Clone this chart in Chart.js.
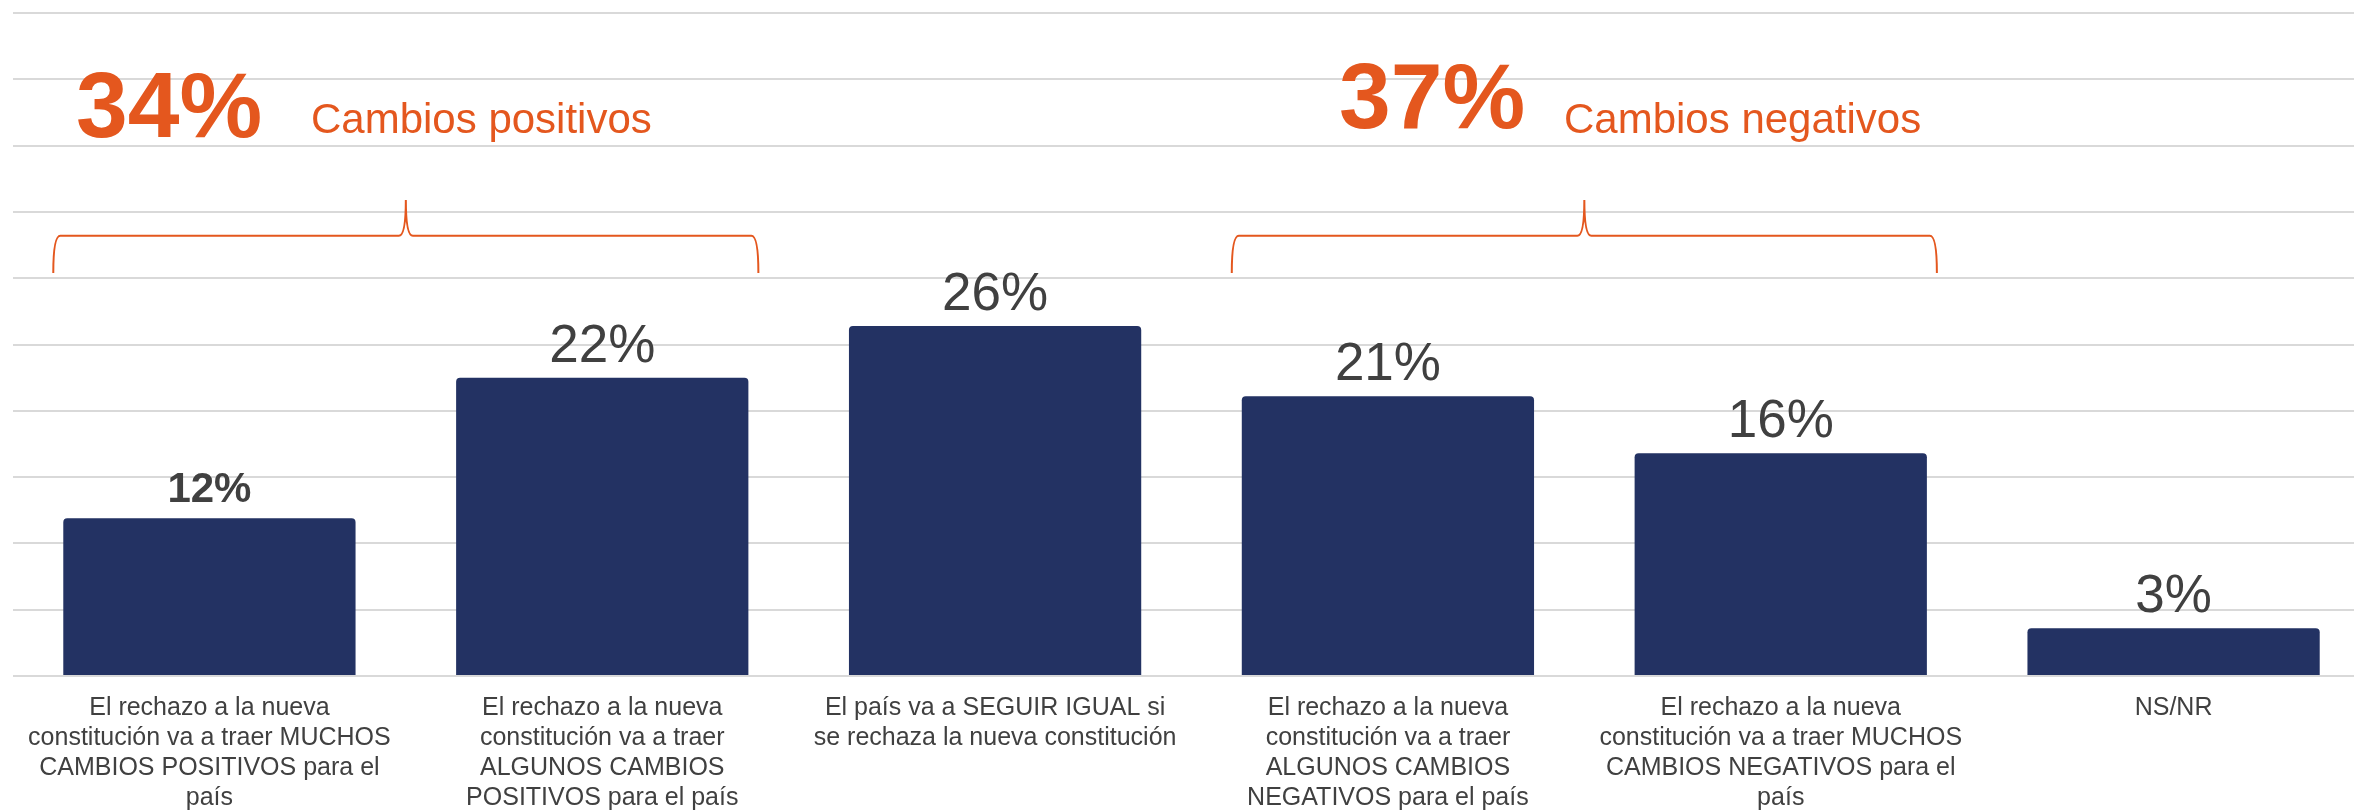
<!DOCTYPE html>
<html>
<head>
<meta charset="utf-8">
<script src="https://cdn.jsdelivr.net/npm/chart.js@4/dist/chart.umd.min.js"></script>
<style>
  html, body { margin: 0; padding: 0; background: #fff; overflow: hidden; }
  canvas { display: block; }
</style>
</head>
<body>
<canvas id="chart" width="2370" height="812"></canvas>
<script>
const categories = [
  ['El rechazo a la nueva', 'constitución va a traer MUCHOS', 'CAMBIOS POSITIVOS para el', 'país'],
  ['El rechazo a la nueva', 'constitución va a traer', 'ALGUNOS CAMBIOS', 'POSITIVOS para el país'],
  ['El país va a SEGUIR IGUAL si', 'se rechaza la nueva constitución'],
  ['El rechazo a la nueva', 'constitución va a traer', 'ALGUNOS CAMBIOS', 'NEGATIVOS para el país'],
  ['El rechazo a la nueva', 'constitución va a traer MUCHOS', 'CAMBIOS NEGATIVOS para el', 'país'],
  ['NS/NR']
];
const values = [11.9, 22.5, 26.4, 21.1, 16.8, 3.6];
const valueLabels = ['12%', '22%', '26%', '21%', '16%', '3%'];

// groups shown with a brace above the bars
const groupBars = [[0, 1], [3, 4]];
const groupTotals = ['34%', '37%'];
const groupNames = ['Cambios positivos', 'Cambios negativos'];

const ORANGE = '#E4571E';
const NAVY = '#233263';
const FONT = "'Liberation Sans', Arial, sans-serif";

const annotations = {
  id: 'annotations',
  afterDatasetsDraw(chart) {
    const ctx = chart.ctx;
    const y = chart.scales.y;
    const bars = chart.getDatasetMeta(0).data;

    // value labels
    ctx.save();
    ctx.textAlign = 'center';
    ctx.textBaseline = 'alphabetic';
    ctx.fillStyle = '#404040';
    bars.forEach((bar, i) => {
      ctx.font = i === 0 ? `bold 42px ${FONT}` : `53px ${FONT}`;
      ctx.fillText(valueLabels[i], bar.x, bar.y - 16);
    });
    ctx.restore();

    // braces + group totals
    ctx.save();
    ctx.strokeStyle = ORANGE;
    ctx.lineWidth = 2;
    const textPos = [{ num: 76, name: 311, numY: 137 }, { num: 1339, name: 1564, numY: 128 }];
    groupBars.forEach((g, k) => {
      const first = bars[g[0]], last = bars[g[1]];
      const L = first.x - first.width / 2 - 10;
      const R = last.x + last.width / 2 + 10;
      const tip = (first.x + last.x) / 2;
      const yEnd = y.getPixelForValue(30.4);
      const yH = y.getPixelForValue(33.2);
      const yTip = y.getPixelForValue(35.9);
      ctx.beginPath();
      ctx.moveTo(L, yEnd);
      ctx.quadraticCurveTo(L, yH, L + 7, yH);
      ctx.lineTo(tip - 7, yH);
      ctx.quadraticCurveTo(tip, yH, tip, yTip);
      ctx.quadraticCurveTo(tip, yH, tip + 7, yH);
      ctx.lineTo(R - 7, yH);
      ctx.quadraticCurveTo(R, yH, R, yEnd);
      ctx.stroke();

      ctx.fillStyle = ORANGE;
      ctx.textAlign = 'left';
      ctx.textBaseline = 'alphabetic';
      ctx.font = `bold 93px ${FONT}`;
      ctx.fillText(groupTotals[k], textPos[k].num, textPos[k].numY);
      ctx.font = `42px ${FONT}`;
      ctx.fillText(groupNames[k], textPos[k].name, 133);
    });
    ctx.restore();
  }
};

new Chart(document.getElementById('chart'), {
  type: 'bar',
  data: {
    labels: categories,
    datasets: [{
      data: values,
      backgroundColor: NAVY,
      borderRadius: { topLeft: 4, topRight: 4 },
      borderSkipped: 'bottom',
      categoryPercentage: 1,
      barPercentage: 0.744
    }]
  },
  options: {
    responsive: false,
    animation: false,
    layout: { padding: { top: 13, left: 0, right: 0, bottom: 0 } },
    plugins: { legend: { display: false }, tooltip: { enabled: false } },
    scales: {
      x: {
        grid: { display: false, drawTicks: false },
        border: { display: false },
        ticks: {
          color: '#404040',
          font: { family: FONT, size: 25, lineHeight: 1.2 },
          maxRotation: 0,
          autoSkip: false,
          padding: 17
        },
        afterFit: s => { s.height = 136; }
      },
      y: {
        min: 0,
        max: 50,
        ticks: { display: false, stepSize: 5 },
        grid: { color: '#d9d9d9', lineWidth: 2, drawTicks: false },
        border: { display: false },
        afterFit: s => { s.width = 13; }
      }
    }
  },
  plugins: [annotations]
});
</script>
</body>
</html>
